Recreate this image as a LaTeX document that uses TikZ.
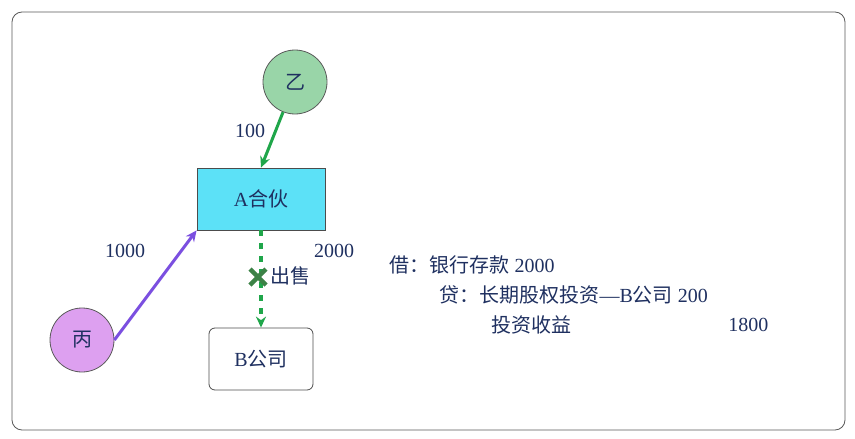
\documentclass[tikz,border=0pt]{standalone}
\usepackage{fontspec}
\setmainfont{Liberation Serif}
\newfontfamily\cjk{Noto Sans CJK SC}
\usetikzlibrary{arrows.meta}
\definecolor{ink}{HTML}{1F3060}
\definecolor{arrgreen}{HTML}{1FA64A}
\definecolor{arrviolet}{HTML}{7B4FE0}
\definecolor{crossgreen}{HTML}{3C8246}
\tikzset{
  party/.style={circle, draw=gray!70!black, line width=0.8pt, minimum size=64pt, inner sep=0, font=\fontsize{20}{22}\selectfont\cjk, text=ink},
  entity/.style={draw=gray!60!black, line width=0.8pt, minimum width=128pt, minimum height=62pt, font=\fontsize{20}{22}\selectfont, text=ink},
  amount/.style={font=\fontsize{20}{22}\selectfont, text=ink},
  flow/.style={-{Stealth[length=11pt,width=10pt]}, line width=3pt}
}
\begin{document}
\begin{tikzpicture}[x=1pt,y=-1pt]
    % Frame
    \useasboundingbox (0,0) rectangle (855,439);
    \draw[gray!70!black,line width=0.8pt,rounded corners=10pt] (12,12) rectangle (845,430);

    % Parties
    \node[party,fill={rgb,255:red,153;green,213;blue,168}] (yi) at (295,82) {乙};
    \node[party,fill={rgb,255:red,221;green,160;blue,240}] (bing) at (82,340) {丙};
    \node[entity,fill={rgb,255:red,92;green,225;blue,247}] (A) at (261,199) {A{\cjk 合伙}};
    \node[entity,minimum width=104pt,rounded corners=6pt] (B) at (261,359) {B{\cjk 公司}};

    % Flows
    \draw[flow,arrgreen] (yi) -- (A.north);
    \draw[flow,arrviolet] (bing.east) -- (A.south west);
    \draw[flow,arrgreen,dash pattern=on 6pt off 7pt,line width=3.5pt] (A.south) -- (B.north);

    % Amounts
    \node[amount] (a100) at (250,131) {100};
    \node[amount] (a1000) at (125,251) {1000};
    \node[amount] (a2000) at (334,251) {2000};

    % Sale cancelled
    \coordinate (cross) at (258,277);
    \draw[crossgreen,line width=4.5pt] ([shift={(-8,-8)}]cross) -- ([shift={(8,8)}]cross)
                                       ([shift={(-8,8)}]cross) -- ([shift={(8,-8)}]cross);
    \node[amount,anchor=west,font=\fontsize{20}{22}\selectfont\cjk] (sale) at (267,276) {出售};

    % Journal entry
    \node[amount,anchor=west] (dr) at (386,265) {{\cjk 借：银行存款} 2000};
    \node[amount,anchor=west] (cr) at (436,295) {{\cjk 贷：长期股权投资}—B{\cjk 公司} 200};
    \node[amount,anchor=west] (gain) at (488,325) {\cjk 投资收益};
    \node[amount,anchor=east] (g1800) at (772,325) {1800};
\end{tikzpicture}
\end{document}
